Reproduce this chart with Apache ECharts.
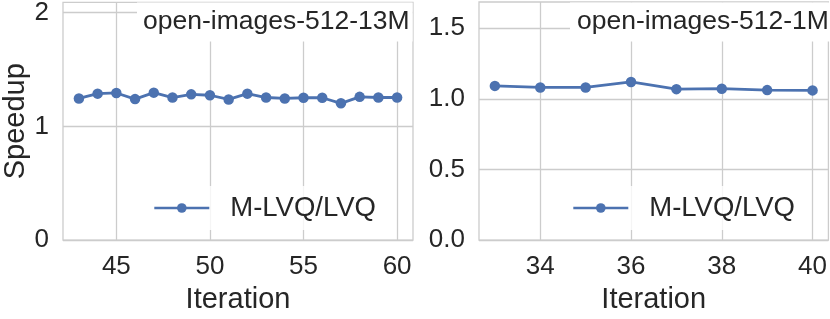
<!DOCTYPE html>
<html>
<head>
<meta charset="utf-8">
<script src="https://cdn.jsdelivr.net/npm/echarts@6/dist/echarts.min.js"></script>
<style>html,body{margin:0;padding:0;background:#fff}#c{width:830px;height:319px}</style>
</head>
<body>
<div id="c"></div>
<script>
const seriesName = 'M-LVQ/LVQ';
const titleLeft = 'open-images-512-13M';
const titleRight = 'open-images-512-1M';
const iterLeft = [43,44,45,46,47,48,49,50,51,52,53,54,55,56,57,58,59,60];
const speedLeft = [1.246,1.288,1.294,1.240,1.297,1.254,1.282,1.274,1.237,1.288,1.254,1.246,1.252,1.252,1.203,1.260,1.254,1.254];
const iterRight = [33,34,35,36,37,38,39,40];
const speedRight = [1.092,1.081,1.081,1.120,1.069,1.072,1.062,1.060];
const xTicksLeft = [45,50,55,60];
const yTicksLeft = [0,1,2];
const xTicksRight = [34,36,38,40];
const yTicksRight = [0,0.5,1.0,1.5];

const FONT = 'Liberation Sans';
const TXT = '#262626';
const GRID = '#cccccc';
const BLUE = '#4C72B0';

function pairs(xs, ys){ return xs.map((x,i)=>[x, ys[i]]); }

function xAxis(idx, min, max, ticks){
  return {
    type:'value', gridIndex: idx, min, max,
    name:'Iteration', nameLocation:'middle', nameGap:43,
    nameTextStyle:{fontFamily:FONT, fontSize:29, color:TXT},
    axisLine:{show:false},
    axisTick:{show:false, customValues: ticks},
    axisLabel:{customValues: ticks, fontFamily:FONT, fontSize:26, color:TXT, margin:14},
    splitLine:{show:true, lineStyle:{color:GRID, width:1.3}}
  };
}
function yAxis(idx, min, max, ticks, fmt, name){
  return {
    type:'value', gridIndex: idx, min, max,
    name: name || '', nameLocation:'middle', nameGap:33,
    nameTextStyle:{fontFamily:FONT, fontSize:29, color:TXT},
    axisLine:{show:false},
    axisTick:{show:false, customValues: ticks},
    axisLabel:{customValues: ticks, formatter: fmt, fontFamily:FONT, fontSize:26, color:TXT, margin:14},
    splitLine:{show:true, lineStyle:{color:GRID, width:1.3}}
  };
}
function legend(left){
  return {
    data:[seriesName], left, top:186, orient:'horizontal',
    itemWidth:55, itemHeight:12,
    padding:[8,10,8,10],
    backgroundColor:'rgba(255,255,255,0.8)',
    lineStyle:{width:2.6, color:BLUE},
    itemStyle:{color:BLUE},
    textStyle:{fontFamily:FONT, fontSize:27.5, color:TXT, padding:[0,0,0,16]},
    selectedMode:false
  };
}
function title(text, left, padL){
  return {
    text, left, top:3, padding:[6,3,6,padL],
    backgroundColor:'#ffffff',
    textStyle:{fontFamily:FONT, fontSize:26.5, fontWeight:'normal', color:TXT, lineHeight:26}
  };
}
function series(idx, data){
  return {
    name: seriesName, type:'line', xAxisIndex: idx, yAxisIndex: idx,
    data, symbol:'circle', symbolSize:10.5, showSymbol:true,
    lineStyle:{color:BLUE, width:2.8}, itemStyle:{color:BLUE},
    animation:false, z:3
  };
}

const chart = echarts.init(document.getElementById('c'), null, {renderer:'canvas'});
chart.setOption({
  animation:false,
  backgroundColor:'#ffffff',
  textStyle:{fontFamily:FONT},
  title:[ title(titleLeft, 137, 6), title(titleRight, 570, 7) ],
  legend:[ legend(143), legend(562) ],
  grid:[
    {left:62, right:417, top:2, bottom:72, show:true, borderColor:GRID, borderWidth:1.3, backgroundColor:'transparent'},
    {left:479, right:1, top:2, bottom:72, show:true, borderColor:GRID, borderWidth:1.3, backgroundColor:'transparent'}
  ],
  xAxis:[ xAxis(0, 42.15, 60.85, xTicksLeft), xAxis(1, 32.65, 40.35, xTicksRight) ],
  yAxis:[ yAxis(0, 0, 2.09, yTicksLeft, v=>String(v), 'Speedup'), yAxis(1, 0, 1.686, yTicksRight, v=>v.toFixed(1)) ],
  series:[ series(0, pairs(iterLeft, speedLeft)), series(1, pairs(iterRight, speedRight)) ]
});
</script>
</body>
</html>
